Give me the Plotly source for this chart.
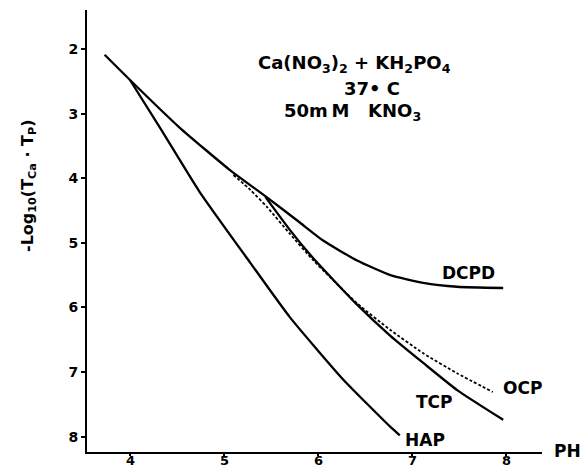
import plotly.graph_objects as go

# ---- data ----
dcpd_ph = [3.73, 4.00, 4.53, 5.06, 5.46, 5.81, 6.05, 6.41, 6.77, 7.12, 7.48, 7.97]
dcpd_y = [2.09, 2.48, 3.22, 3.87, 4.30, 4.69, 4.96, 5.27, 5.50, 5.62, 5.68, 5.70]

tcp_ph = [5.44, 5.70, 5.95, 6.41, 6.77, 7.12, 7.48, 7.97]
tcp_y = [4.29, 4.80, 5.24, 5.95, 6.44, 6.86, 7.28, 7.74]

ocp_ph = [5.10, 5.28, 5.46, 5.70, 5.95, 6.41, 6.77, 7.12, 7.48, 7.86]
ocp_y = [3.95, 4.18, 4.45, 4.86, 5.27, 5.93, 6.35, 6.71, 7.02, 7.31]

hap_ph = [4.00, 4.32, 4.74, 5.28, 5.70, 6.27, 6.77, 6.87]
hap_y = [2.48, 3.22, 4.21, 5.31, 6.15, 7.12, 7.85, 7.98]

x_ticks = [4, 5, 6, 7, 8]
x_tick_labels = ["4", "5", "6", "7", "8"]
y_ticks = [2, 3, 4, 5, 6, 7, 8]

curve_labels = ["DCPD", "OCP", "TCP", "HAP"]
label_ph = [7.60, 8.18, 7.24, 7.14]
label_y = [5.47, 7.25, 7.46, 8.05]

FONT = "DejaVu Sans"
BLACK = "#000000"

fig = go.Figure()
for xs, ys, dash in [(dcpd_ph, dcpd_y, "solid"), (tcp_ph, tcp_y, "solid"),
                     (hap_ph, hap_y, "solid"), (ocp_ph, ocp_y, "3px,2px")]:
    fig.add_trace(go.Scatter(x=xs, y=ys, mode="lines",
                             line=dict(color=BLACK, width=2.3 if dash == "solid" else 1.8,
                                       dash=dash, shape="spline", smoothing=0.5),
                             showlegend=False, hoverinfo="skip"))

# plot area in pixels
L, R, T, B = 87, 542, 10, 452
W, H = 584, 470


def px(xp, yp):
    return (xp - L) / (R - L), (B - yp) / (B - T)


annotations = []
for t, x, y in zip(curve_labels, label_ph, label_y):
    annotations.append(dict(x=x, y=y, xref="x", yref="y", text=t, showarrow=False,
                            font=dict(family=FONT, size=17, color=BLACK, weight="bold"),
                            xanchor="center", yanchor="middle"))

# x tick labels (drawn as annotations so they sit close under the axis)
tick_y = px(0, 461)[1]
for v, t in zip(x_ticks, x_tick_labels):
    annotations.append(dict(x=v, y=tick_y, xref="x", yref="paper", text=t, showarrow=False,
                            font=dict(family=FONT, size=13, color=BLACK, weight="bold"),
                            xanchor="center", yanchor="middle", borderpad=0))

for text, (xp, yp), size in [
    ("Ca(NO<sub>3</sub>)<sub>2</sub> + KH<sub>2</sub>PO<sub>4</sub>", (354, 64), 18),
    ("37\u2022 C", (372, 88), 18),
    ("50m\u2009M\u00a0\u00a0\u00a0KNO<sub>3</sub>", (352, 112), 18),
    ("PH", (567, 451), 17),
]:
    ax, ay = px(xp, yp)
    annotations.append(dict(x=ax, y=ay, xref="paper", yref="paper", text=text, showarrow=False,
                            font=dict(family=FONT, size=size, color=BLACK, weight="bold"),
                            xanchor="center", yanchor="middle"))

ax, ay = px(28, 185)
annotations.append(dict(x=ax, y=ay, xref="paper", yref="paper",
                        text="-Log<sub>10</sub>(T<sub>Ca</sub> \u00b7 T<sub>P</sub>)",
                        showarrow=False, textangle=-90,
                        font=dict(family=FONT, size=16, color=BLACK, weight="bold"),
                        xanchor="center", yanchor="middle"))

xmin = 4 - (130 - L) / 94.0
xmax = xmin + (R - L) / 94.0
ytop = 2 - (49 - T) / 64.6
ybot = ytop + (B - T) / 64.6

fig.update_layout(
    width=W, height=H,
    margin=dict(l=L, r=W - R, t=T, b=H - B, pad=0, autoexpand=False),
    paper_bgcolor="white", plot_bgcolor="white",
    annotations=annotations,
    xaxis=dict(range=[xmin, xmax], tickvals=x_ticks, showticklabels=False,
               showgrid=False, zeroline=False, showline=True, linecolor=BLACK, linewidth=2,
               ticks="outside", ticklen=2, tickwidth=1.5, tickcolor=BLACK, automargin=False),
    yaxis=dict(range=[ybot, ytop], tickvals=y_ticks, ticktext=[str(v) for v in y_ticks],
               showgrid=False, zeroline=False, showline=True, linecolor=BLACK, linewidth=2,
               ticks="outside", ticklen=4, tickwidth=1.5, tickcolor=BLACK, automargin=False,
               tickfont=dict(family=FONT, size=14, color=BLACK, weight="bold")),
)

fig.write_html("out.html")
